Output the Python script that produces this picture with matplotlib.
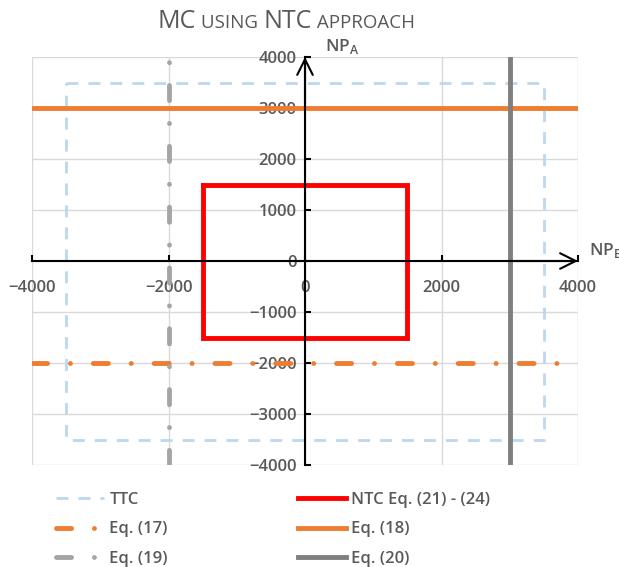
import numpy as np
import matplotlib
matplotlib.use("Agg")
import matplotlib.pyplot as plt

plt.rcParams['font.family'] = ['Open Sans', 'DejaVu Sans']

# limits and boundary values (MW)
x_lim = [-4000, 4000]
y_lim = [-4000, 4000]
ttc = 3500                 # TTC box half width
ntc = 1500                 # NTC box half width
eq17_y = -2000
eq18_y = 3000
eq19_x = -2000
eq20_x = 3000
x_ticks = [-4000, -2000, 0, 2000, 4000]
y_ticks = [-4000, -3000, -2000, -1000, 0, 1000, 2000, 3000, 4000]

c_text = "#595959"
c_blue = "#BDD7EE"
c_orange = "#ED7D31"
c_lgray = "#A5A5A5"
c_dgray = "#7F7F7F"
c_red = "#FF0000"

W, H = 619, 567
fig = plt.figure(figsize=(W / 100, H / 100), dpi=100)
ax = fig.add_axes([32 / W, 1 - 465 / H, (578 - 32) / W, (465 - 57) / H])

dashdot = (0, (3.1, 4.7, 0.01, 4.7))

ax.plot([-ttc, ttc, ttc, -ttc, -ttc], [ttc, ttc, -ttc, -ttc, ttc],
        color=c_blue, lw=2, ls=(0, (4.3, 3.6)), label="TTC", zorder=3)
ax.plot(x_lim, [eq17_y, eq17_y], color=c_orange, lw=3.5, ls=dashdot,
        dash_capstyle="round", label="Eq. (17)", zorder=3)
ax.plot([eq19_x, eq19_x], y_lim, color=c_lgray, lw=3.5, ls=dashdot,
        dash_capstyle="round", label="Eq. (19)", zorder=3)
ax.plot([-ntc, ntc, ntc, -ntc, -ntc], [ntc, ntc, -ntc, -ntc, ntc],
        color=c_red, lw=3.5, label="NTC Eq. (21) - (24)", zorder=4,
        solid_joinstyle="miter")
ax.plot(x_lim, [eq18_y, eq18_y], color=c_orange, lw=3.5, label="Eq. (18)", zorder=3)
ax.plot([eq20_x, eq20_x], y_lim, color=c_dgray, lw=3.5, label="Eq. (20)", zorder=3)

ax.set_xlim(x_lim)
ax.set_ylim(y_lim)
ax.set_xticks(x_ticks)
ax.set_yticks(y_ticks)
ax.grid(True, color="#D9D9D9", lw=1, zorder=0)
ax.set_axisbelow(True)

for s in ["top", "right"]:
    ax.spines[s].set_visible(False)
ax.spines["left"].set_position(("data", 0))
ax.spines["bottom"].set_position(("data", 0))
ax.spines["left"].set_linewidth(1.5)
ax.spines["bottom"].set_linewidth(1.5)
ax.spines["left"].set_zorder(5)
ax.spines["bottom"].set_zorder(5)
ax.tick_params(axis="x", direction="in", length=4, width=1.5, pad=14,
               labelsize=12, labelcolor=c_text)
ax.tick_params(axis="y", direction="in", length=4, width=1.5, pad=6,
               labelsize=12, labelcolor=c_text)
for lab in ax.get_xticklabels() + ax.get_yticklabels():
    lab.set_fontweight("semibold")

# arrow heads at the positive ends of both axes
arrow = dict(arrowstyle="->", color="black", lw=1.5, mutation_scale=28,
             shrinkA=0, shrinkB=0)
ax.annotate("", xy=(4000, 0), xytext=(3000, 0), arrowprops=arrow, zorder=6,
            annotation_clip=False)
ax.annotate("", xy=(0, 4000), xytext=(0, 3000), arrowprops=arrow, zorder=6,
            annotation_clip=False)

fig.text(325 / W, 1 - 47 / H, r"NP$_\mathregular{A}$", fontsize=12.5,
         fontweight="semibold", color=c_text, va="center", ha="left")
fig.text(589 / W, 1 - 250 / H, r"NP$_\mathregular{B}$", fontsize=12.5,
         fontweight="semibold", color=c_text, va="center", ha="left")

# title in small caps, built from pieces
pieces = [("MC", 18), (" USING ", 13.5), ("NTC", 18), (" APPROACH", 13.5)]
fig.canvas.draw()
renderer = fig.canvas.get_renderer()
x = 158
for txt, size in pieces:
    t = fig.text(x / W, 1 - 28 / H, txt, fontsize=size, color=c_text,
                 ha="left", va="baseline")
    x += t.get_window_extent(renderer).width

fig.legend(loc="upper left", bbox_to_anchor=(41 / W, 1 - 477 / H), ncol=2,
           frameon=False, handlelength=2.9, handletextpad=0.3,
           columnspacing=7.8, labelspacing=0.8, labelcolor=c_text,
           prop=dict(weight="semibold", size=12))

fig.savefig("out.png", dpi=100)
